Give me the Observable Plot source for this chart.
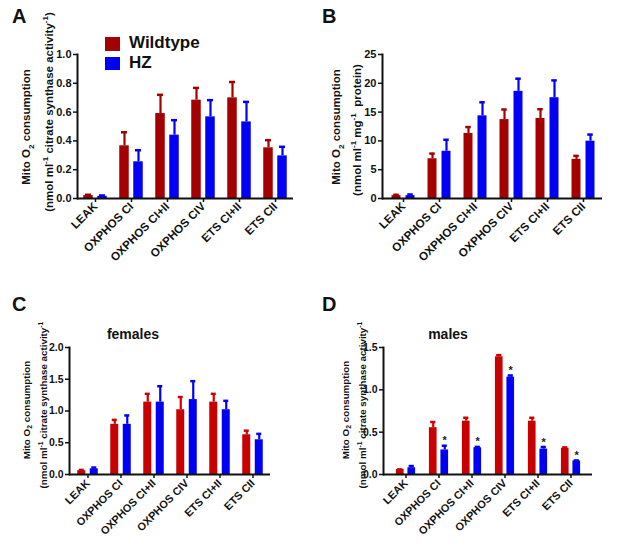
<!DOCTYPE html>
<html><head><meta charset="utf-8">
<script src="https://cdn.jsdelivr.net/npm/d3@7"></script>
<script src="https://cdn.jsdelivr.net/npm/@observablehq/plot@0.6"></script>
<style>
body{margin:0;background:#fff;}
#root{position:relative;width:617px;height:546px;overflow:hidden;font-family:"Liberation Sans",Arial,sans-serif;}
.abs{position:absolute;}
.ylab{position:absolute;transform:translate(-50%,-50%) rotate(-90deg);white-space:nowrap;font-weight:bold;color:#111;}
.letter{position:absolute;font-weight:bold;font-size:20px;color:#111;}
.title{position:absolute;font-weight:bold;font-size:14px;transform:translateX(-50%);color:#111;}
</style></head>
<body><div id="root"></div>
<script>
const categories = ["LEAK","OXPHOS CI","OXPHOS CI+II","OXPHOS CIV","ETS CI+II","ETS CII"];
const groups = ["Wildtype","HZ"];
// Panel A (per citrate synthase activity)
const aWT = [0.02, 0.366, 0.59, 0.683, 0.699, 0.352];
const aWTerr = [0.006, 0.094, 0.13, 0.085, 0.11, 0.053];
const aHZ = [0.015, 0.255, 0.44, 0.567, 0.532, 0.296];
const aHZerr = [0.006, 0.08, 0.104, 0.116, 0.139, 0.063];
const aTicks = [0, 0.2, 0.4, 0.6, 0.8, 1.0];
// Panel B (per mg protein)
const bWT = [0.5, 6.9, 11.3, 13.7, 13.9, 6.8];
const bWTerr = [0.15, 0.9, 1.1, 1.75, 1.6, 0.6];
const bHZ = [0.5, 8.2, 14.35, 18.6, 17.5, 9.95];
const bHZerr = [0.2, 2.0, 2.35, 2.2, 3.0, 1.15];
const bTicks = [0, 5, 10, 15, 20, 25];
// Panel C (females)
const cWT = [0.06, 0.79, 1.14, 1.02, 1.14, 0.626];
const cWTerr = [0.012, 0.07, 0.13, 0.2, 0.13, 0.064];
const cHZ = [0.09, 0.79, 1.14, 1.18, 1.02, 0.547];
const cHZerr = [0.02, 0.14, 0.25, 0.29, 0.14, 0.093];
const cTicks = [0, 0.5, 1.0, 1.5, 2.0];
// Panel D (males)
const dWT = [0.06, 0.553, 0.63, 1.39, 0.63, 0.31];
const dWTerr = [0.0, 0.067, 0.04, 0.02, 0.04, 0.01];
const dHZ = [0.08, 0.29, 0.316, 1.15, 0.30, 0.16];
const dHZerr = [0.02, 0.05, 0.01, 0.02, 0.025, 0.006];
const dStars = ["", "*", "*", "*", "*", "*"];
const dTicks = [0, 0.5, 1.0, 1.5];

const root = document.getElementById("root");

function panel(o) {
  const rows = (vals, errs, g) => categories.map((c, i) => ({cat: c, group: g, v: vals[i], top: vals[i] + errs[i], star: o.stars ? o.stars[i] : ""}));
  const wt = rows(o.wt, o.wtErr, "Wildtype");
  const hz = rows(o.hz, o.hzErr, "HZ");
  const inner = o.width - o.ml - o.mr - o.xinL - o.xinR;
  const step = inner / categories.length;
  const bw = o.barW, gap = o.gap, capW = o.capW;
  const off = gap / 2 + bw / 2;
  const h = step / 2;
  const marks = [];
  const add = (data, color, sign) => {
    const barIns = sign < 0
      ? {insetLeft: h - gap / 2 - bw, insetRight: h + gap / 2}
      : {insetLeft: h + gap / 2, insetRight: h - gap / 2 - bw};
    const capIns = sign < 0
      ? {insetLeft: h - off - capW / 2, insetRight: h + off - capW / 2}
      : {insetLeft: h + off - capW / 2, insetRight: h - off - capW / 2};
    marks.push(Plot.ruleX(data, {x: "cat", y1: "v", y2: "top", dx: sign * off, stroke: color, strokeWidth: 2.2}));
    marks.push(Plot.tickY(data, {x: "cat", y: "top", stroke: color, strokeWidth: 2.5, ...capIns}));
    marks.push(Plot.barY(data, {x: "cat", y: "v", fill: color, ...barIns}));
  };
  add(wt, o.red, -1);
  add(hz, "#0000f5", 1);
  if (o.stars) {
    marks.push(Plot.text(hz, {x: "cat", y: "top", text: "star", dx: off, dy: -5, fontSize: 11, fill: "#222"}));
  }
  marks.push(Plot.axisY({ticks: o.ticks, tickFormat: o.fmt, tickSize: 4, tickPadding: 2, strokeWidth: 1.5, label: null, fontSize: o.yFont}));
  marks.push(Plot.axisX({tickRotate: -45, tickSize: 4, tickPadding: o.xPad, strokeWidth: 1.5, label: null, fontSize: o.xFont}));
  marks.push(Plot.frame({anchor: "left", strokeWidth: 2, stroke: "#111"}));
  marks.push(Plot.ruleY([0], {strokeWidth: 2, stroke: "#111"}));
  const svg = Plot.plot({
    width: o.width, height: o.height,
    marginLeft: o.ml, marginRight: o.mr, marginTop: o.mt, marginBottom: o.mb,
    style: {fontFamily: '"Liberation Sans", Arial, sans-serif', fontWeight: "bold", fontSize: o.yFont + "px", color: "#111", background: "transparent", overflow: "visible"},
    x: {type: "band", domain: categories, padding: 0, insetLeft: o.xinL, insetRight: o.xinR},
    y: {domain: o.ydomain, nice: false},
    marks
  });
  svg.style.position = "absolute";
  svg.style.left = o.left + "px";
  svg.style.top = o.top + "px";
  root.appendChild(svg);
}

function addHTML(cls, html, left, top, extra) {
  const d = document.createElement("div");
  d.className = cls;
  d.innerHTML = html;
  d.style.left = left + "px";
  d.style.top = top + "px";
  if (extra) Object.assign(d.style, extra);
  root.appendChild(d);
  return d;
}

const f1 = d3.format(".1f");
panel({left: 0, top: 0, width: 300, height: 268, ml: 77, mr: 7, mt: 54, mb: 70, xinL: 0, xinR: 0,
  barW: 9.5, gap: 4.5, capW: 6, wt: aWT, wtErr: aWTerr, hz: aHZ, hzErr: aHZerr, ticks: aTicks, fmt: f1, ydomain: [0, 1], red: "#a30000", yFont: 11, xFont: 11.6, xPad: 2});
panel({left: 300, top: 0, width: 317, height: 268, ml: 82, mr: 15, mt: 54, mb: 70, xinL: 1, xinR: 0,
  barW: 9.5, gap: 4.5, capW: 6, wt: bWT, wtErr: bWTerr, hz: bHZ, hzErr: bHZerr, ticks: bTicks, fmt: d3.format("d"), ydomain: [0, 25], red: "#a30000", yFont: 11, xFont: 11.6, xPad: 2});
panel({left: 0, top: 270, width: 300, height: 276, ml: 69, mr: 30, mt: 77, mb: 72, xinL: 0, xinR: 0,
  barW: 8.5, gap: 4, capW: 5.5, wt: cWT, wtErr: cWTerr, hz: cHZ, hzErr: cHZerr, ticks: cTicks, fmt: f1, ydomain: [0, 2], red: "#c80000", yFont: 10.5, xFont: 10.9, xPad: 3});
panel({left: 300, top: 270, width: 317, height: 276, ml: 83, mr: 25, mt: 77, mb: 72, xinL: 5, xinR: 4,
  barW: 8, gap: 3.5, capW: 5.5, wt: dWT, wtErr: dWTerr, hz: dHZ, hzErr: dHZerr, ticks: dTicks, fmt: f1, ydomain: [0, 1.5], red: "#c80000", yFont: 10.5, xFont: 10.9, xPad: 3, stars: dStars});

// panel letters
addHTML("letter", "A", 12, 5);
addHTML("letter", "B", 322, 5);
addHTML("letter", "C", 12, 293);
addHTML("letter", "D", 322, 293);
// titles
addHTML("title", "females", 133, 326);
addHTML("title", "males", 448, 326);
// y labels
addHTML("ylab", "Mito O<sub style='font-size:70%'>2</sub> consumption", 28, 127, {fontSize: "11.5px"});
addHTML("ylab", "(nmol ml<sup style='font-size:70%'>-1</sup> citrate synthase activity<sup style='font-size:70%'>-1</sup>)", 48, 112, {fontSize: "11.5px"});
addHTML("ylab", "Mito O<sub style='font-size:70%'>2</sub> consumption", 338, 127, {fontSize: "11.5px"});
addHTML("ylab", "(nmol ml<sup style='font-size:70%'>-1</sup> mg<sup style='font-size:70%'>-1</sup>&nbsp; protein)", 356, 130, {fontSize: "11.5px"});
addHTML("ylab", "Mito O<sub style='font-size:70%'>2</sub> consumption", 27, 410, {fontSize: "9.8px"});
addHTML("ylab", "(nmol ml<sup style='font-size:70%'>-1</sup> citrate synthase activity<sup style='font-size:70%'>-1</sup>", 43, 405, {fontSize: "9.8px"});
addHTML("ylab", "Mito O<sub style='font-size:70%'>2</sub> consumption", 346, 410, {fontSize: "9.8px"});
addHTML("ylab", "(nmol ml<sup style='font-size:70%'>-1</sup> citrate synthase activity<sup style='font-size:70%'>-1</sup>", 362, 405, {fontSize: "9.8px"});
// legend
addHTML("abs", "", 105, 37, {width: "15px", height: "14px", background: "#a30000"});
addHTML("abs", "", 105, 57, {width: "15px", height: "13px", background: "#0000f5"});
addHTML("abs", groups[0], 129, 33, {fontSize: "17px", fontWeight: "bold", color: "#111"});
addHTML("abs", groups[1], 129, 53, {fontSize: "17px", fontWeight: "bold", color: "#111"});
</script>
</body></html>
